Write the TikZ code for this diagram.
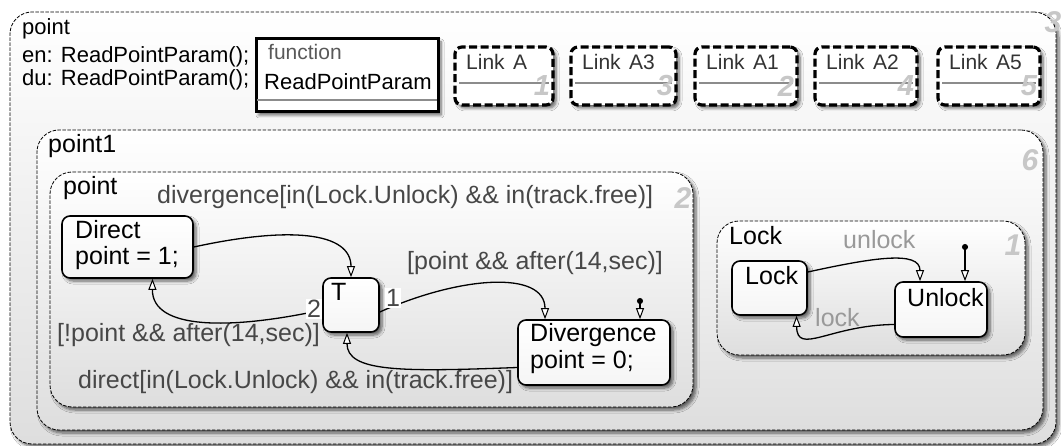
\documentclass[tikz,border=0pt]{standalone}
\usepackage{fontspec}
\setmainfont{Liberation Sans}
\usetikzlibrary{arrows.meta,shadows,shadows.blur,fit,calc}
\begin{document}
\begin{tikzpicture}[x=1pt,y=-1pt,
  shd/.style={blur shadow={shadow xshift=3pt, shadow yshift=-3pt, shadow blur radius=3pt, shadow blur steps=6, shadow opacity=60}},
  cont/.style={draw=black, line width=0.8pt, dash pattern=on 3.5pt off 1.5pt,
     rounded corners=22pt, top color=white, bottom color=black!13, inner sep=0pt, shd},
  stbox/.style={draw=black, line width=1.6pt, rounded corners=8pt,
     top color=white, bottom color=black!4, inner sep=0pt, shd},
  fnbox/.style={draw=black, line width=3pt, fill=white, inner sep=0pt, shd},
  linkbox/.style={draw=black, line width=3.2pt, dash pattern=on 8pt off 3.5pt,
     rounded corners=7pt, fill=white, inner sep=0pt,
     preaction={draw=white, line width=3.2pt}, shd},
  sepline/.style={draw=black!45, line width=1.3pt},
  txt/.style={anchor=west, inner sep=0pt, font=\fontsize{25}{28}\selectfont},
  toptxt/.style={txt, font=\fontsize{22}{24}\selectfont},
  trlab/.style={txt, text=black!72},
  graylab/.style={txt, text=black!40},
  num/.style={inner sep=0pt, font=\fontsize{30}{30}\selectfont\bfseries\itshape, text=black!22},
  jlab/.style={inner sep=1.5pt, fill=white, font=\fontsize{25}{28}\selectfont, text=black!72},
  tr/.style={draw=black, line width=1.3pt, -{Triangle[fill=white, length=11pt, width=8pt, line width=1pt]}},
  deft/.style={draw=black, line width=1.3pt, {Circle[length=6pt]}-{Triangle[fill=white, length=11pt, width=8pt, line width=1pt]}}
]
\useasboundingbox (0,0) rectangle (1061,446);
\fill[white] (0,0) rectangle (1061,446);

% outer chart
\node[cont, fit={(10,12) (1056,444)}] (outer) {};
\node[toptxt] (tPoint) at (22,29) {point};
\node[toptxt] (tEn) at (22,57) {en: ReadPointParam();};
\node[toptxt] (tDu) at (22,80) {du: ReadPointParam();};
\node[num] (nOuter) at (1053,22) {3};

% function box
\node[fnbox, fit={(256,39) (438,112)}] (fn) {};
\draw[sepline] (257,100) -- (437,100);
\node[toptxt, text=black!65, font=\fontsize{21}{24}\selectfont] (tFun) at (268,52) {function};
\node[toptxt] (tFunName) at (264,82) {ReadPointParam};

% link boxes
\foreach \nm/\xa/\xb/\n in {A/455/553/1, A3/571/676/3, A1/695/797/2, A2/815/917/4, A5/938/1040/5}{
  \node[linkbox, fit={(\xa,47) (\xb,105)}] (link\nm) {};
  \draw[sepline] ({\xa+4},83) -- ({\xb-4},83);
  \node[num, font=\fontsize{29}{29}\selectfont\bfseries\itshape] (num\nm) at ({\xb-11},86) {\n};
  \node[toptxt, text=black!80, font=\fontsize{21}{23}\selectfont] (tLink\nm) at ({\xa+11},62) {Link\hspace{0.4em}\nm};
}

% point1
\node[cont, fit={(37,130) (1043,430)}] (point1) {};
\node[txt] (tPoint1) at (48,146) {point1};
\node[num] (nPoint1) at (1030,160) {6};

% inner point
\node[cont, fit={(50,172) (693,407)}] (pointIn) {};
\node[txt] (tPointIn) at (63,188) {point};
\node[num] (nPointIn) at (683,198) {2};

% states
\node[stbox, fit={(62,216) (193,278)}] (Direct) {};
\node[txt] (tDirect) at (75,230) {Direct};
\node[txt] (tDirect2) at (75,258) {point = 1;};

\node[stbox, fit={(323,278) (379,332)}] (T) {};
\node[txt] (tT) at (331,292) {T};

\node[stbox, fit={(518,320) (670,385)}] (Divergence) {};
\node[txt] (tDiv) at (530,335) {Divergence};
\node[txt] (tDiv2) at (530,362) {point = 0;};

% transitions in point
\node[trlab] (lDiv) at (157,197) {divergence[in(Lock.Unlock) \&\& in(track.free)]};
\node[trlab] (lPt) at (407,263) {[point \&\& after(14,sec)]};
\node[trlab] (lNpt) at (57,335) {[!point \&\& after(14,sec)]};
\node[trlab] (lDir) at (78,382) {direct[in(Lock.Unlock) \&\& in(track.free)]};

\draw[tr] (Direct.east) .. controls (290,226) and (351,232) .. (T.north);
\draw[tr] ([yshift=-5pt]T.west) .. controls (230,330) and (152,330) .. ([xshift=25pt]Direct.south);
\draw[tr] ([yshift=-7pt]T.east) .. controls (460,276) and (545,270) .. ([xshift=-49pt]Divergence.north);
\draw[tr] ([yshift=-15pt]Divergence.west) .. controls (400,372) and (347,372) .. ([xshift=-4pt]T.south);
\coordinate (d0) at (640,298);
\draw[deft] (d0) -- (d0 |- Divergence.north);
\node[jlab] (j2) at (314,309) {2};
\node[jlab] (j1) at (393,298) {1};

% Lock chart
\node[cont, fit={(717,221) (1025,355)}] (LockC) {};
\node[txt] (tLockC) at (729,236) {Lock};
\node[num] (nLockC) at (1013,245) {1};

\node[stbox, fit={(732,261) (807,315)}] (LockS) {};
\node[txt] (tLockS) at (745,276) {Lock};
\node[stbox, fit={(895,282) (987,337)}] (Unlock) {};
\node[txt] (tUnlock) at (907,298) {Unlock};

\node[graylab] (lUnlock) at (843,240) {unlock};
\node[graylab] (lLock) at (815,318) {lock};

\draw[tr] ([yshift=16pt]LockS.east) .. controls (872,258) and (920,250) .. ([xshift=-21pt]Unlock.north);
\coordinate (d1) at (965,244);
\draw[deft] (d1) -- (d1 |- Unlock.north);
\draw[tr] ([yshift=-15pt]Unlock.west) .. controls (830,325) and (797,356) .. ([xshift=27pt]LockS.south);
\end{tikzpicture}
\end{document}
